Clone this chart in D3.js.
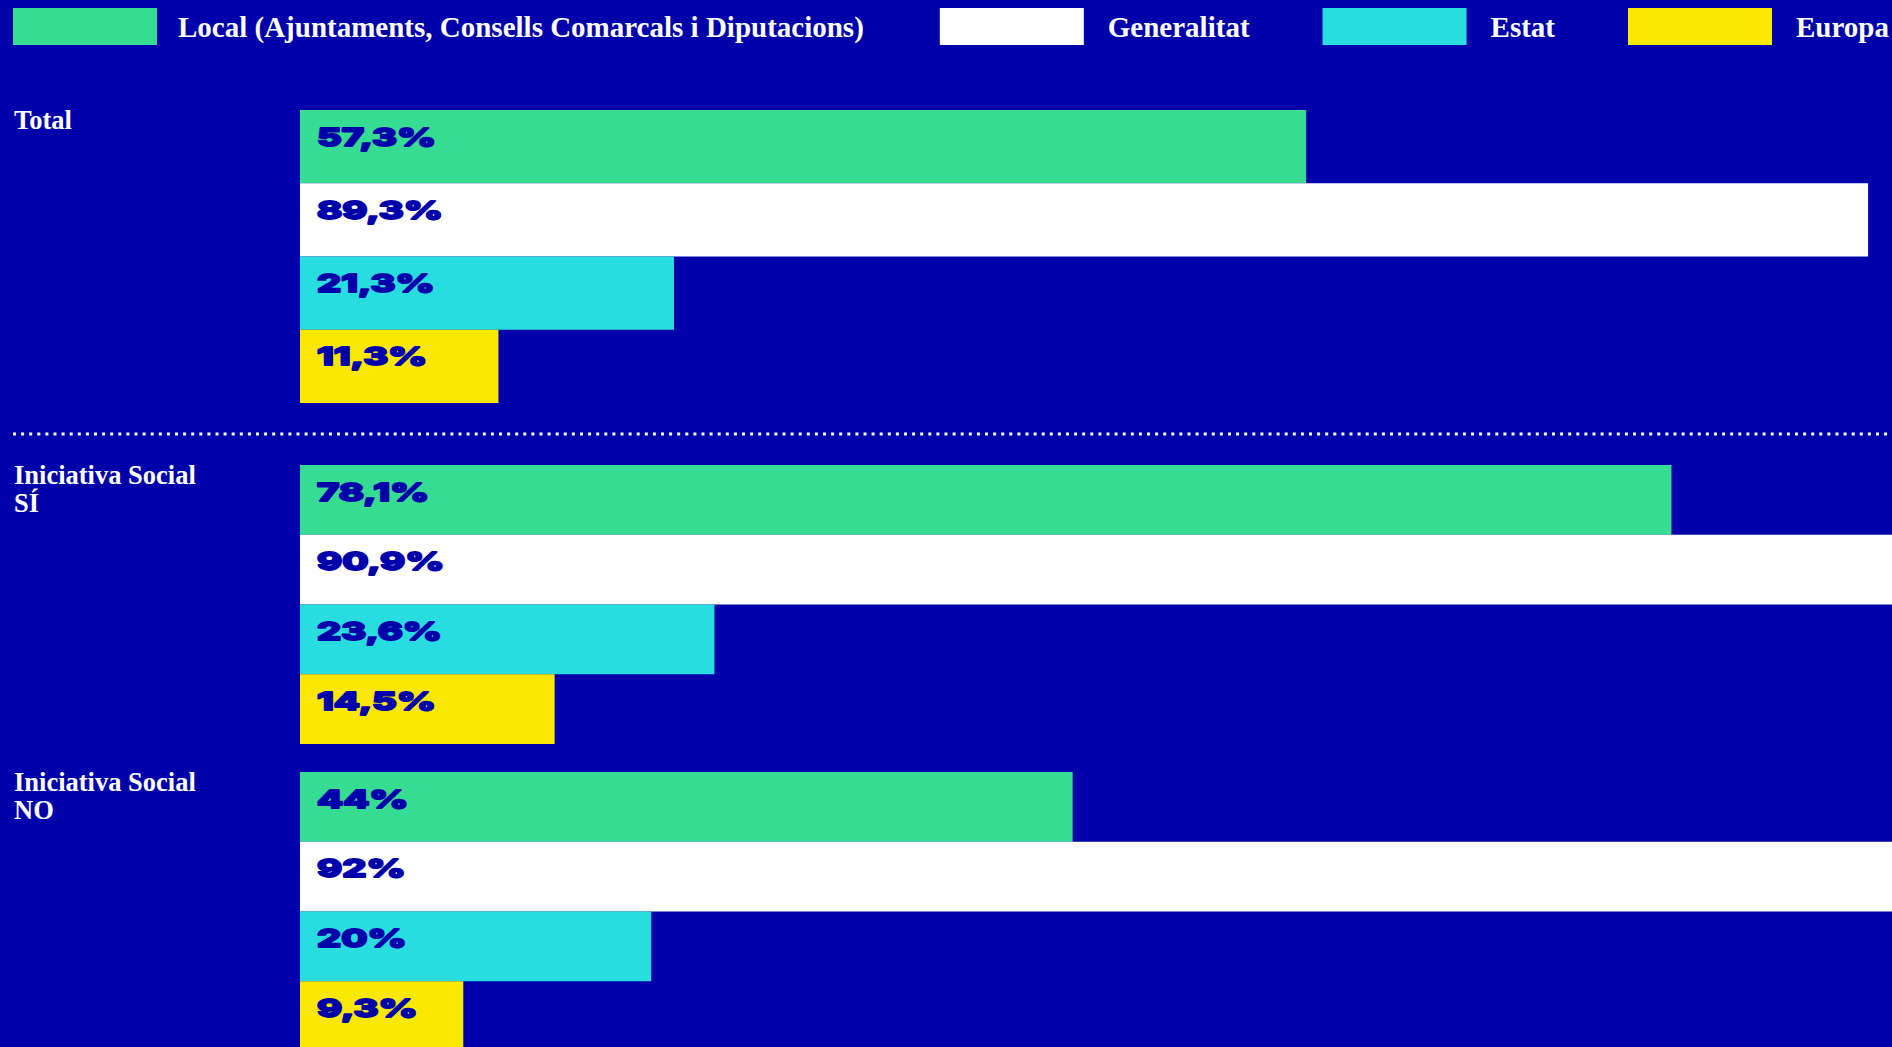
<!DOCTYPE html>
<html>
<head>
<meta charset="utf-8">
<script src="https://cdn.jsdelivr.net/npm/d3@7"></script>
<style>
  html, body { margin: 0; padding: 0; background: #0000aa; overflow: hidden; }
  svg { display: block; }
</style>
</head>
<body>
<svg id="chart" width="1892" height="1047"></svg>
<script>
// ---------- DATA ----------
const categories = ["Total", "Iniciativa Social SÍ", "Iniciativa Social NO"];
const categoryLines = [["Total"], ["Iniciativa Social", "SÍ"], ["Iniciativa Social", "NO"]];
const seriesNames = ["Local (Ajuntaments, Consells Comarcals i Diputacions)", "Generalitat", "Estat", "Europa"];
const localValues = [57.3, 78.1, 44];
const generalitatValues = [89.3, 90.9, 92];
const estatValues = [21.3, 23.6, 20];
const europaValues = [11.3, 14.5, 9.3];
const seriesValues = [localValues, generalitatValues, estatValues, europaValues];
const seriesColors = ["#35dc91", "#ffffff", "#29dce0", "#fae800"];

// ---------- LAYOUT ----------
const W = 1892, H = 1047;
const BG = "#0000aa";
const groupTops = [110, 465, 772];
const groupHeights = [293, 279, 279];
const separators = [434];

const svg = d3.select("#chart");
svg.append("rect").attr("width", W).attr("height", H).attr("fill", BG);

const x = d3.scaleLinear().domain([0, 100]).range([300, 2056]);
const locale = d3.formatLocale({decimal: ",", thousands: ".", grouping: [3], currency: ["", "€"]});
const fmt = locale.format(".1~f");

// ---------- LEGEND ----------
const legend = svg.append("g");
let lx = 13;
seriesNames.forEach((name, i) => {
  legend.append("rect")
    .attr("x", lx).attr("y", 8).attr("width", 144).attr("height", 37)
    .attr("fill", seriesColors[i]);
  const t = legend.append("text")
    .attr("x", lx + (i === 0 ? 165 : 168)).attr("y", 37)
    .attr("fill", "#ffffff")
    .style("font-family", "'Liberation Serif', serif")
    .style("font-weight", "bold")
    .style("font-size", "29px")
    .text(name);
  lx = lx + 168 + t.node().getComputedTextLength() + 73;
});

// ---------- SEPARATORS ----------
separators.forEach(yy => {
  svg.append("line")
    .attr("x1", 13).attr("x2", W).attr("y1", yy).attr("y2", yy)
    .attr("stroke", "#ffffff").attr("stroke-width", 3)
    .attr("stroke-dasharray", "3,5.1");
});

// ---------- GROUPS ----------
const probe = svg.append("text")
  .style("font-family", "Inter, sans-serif").style("font-weight", 800)
  .style("font-size", "25px").text("89,3%");
const sx = 126 / probe.node().getComputedTextLength();
probe.remove();

categories.forEach((cat, gi) => {
  const g = svg.append("g");
  const y = d3.scaleBand()
    .domain(seriesNames)
    .range([groupTops[gi], groupTops[gi] + groupHeights[gi]])
    .padding(0);

  const lab = g.append("text")
    .attr("x", 14).attr("y", groupTops[gi] + 19)
    .attr("fill", "#ffffff")
    .style("font-family", "'Liberation Serif', serif")
    .style("font-weight", "bold")
    .style("font-size", "26.5px");
  categoryLines[gi].forEach((line, li) => {
    lab.append("tspan").attr("x", 14).attr("dy", li === 0 ? 0 : 28.4).text(line);
  });

  seriesNames.forEach((s, si) => {
    const v = seriesValues[si][gi];
    g.append("rect")
      .attr("x", x(0)).attr("y", y(s))
      .attr("width", x(v) - x(0)).attr("height", y.bandwidth())
      .attr("fill", seriesColors[si]);
    g.append("text")
      .attr("transform", `translate(${x(0) + 17},${y(s) + 35.5}) scale(${sx},1)`)
      .attr("fill", BG)
      .attr("stroke", BG).attr("stroke-width", 1.8).attr("stroke-linejoin", "round")
      .style("font-family", "Inter, sans-serif").style("font-weight", 800)
      .style("font-size", "25px")
      .text(fmt(v) + "%");
  });
});
</script>
</body>
</html>
